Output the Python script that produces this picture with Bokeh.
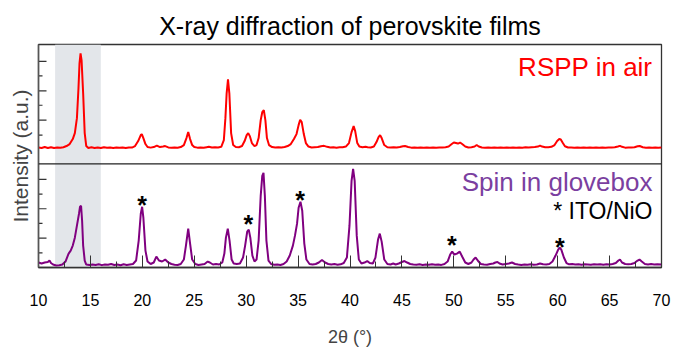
from bokeh.plotting import figure
from bokeh.models import FixedTicker, Label, Span, BoxAnnotation
from bokeh.core.properties import value
from bokeh.embed import file_html
from bokeh.resources import INLINE

# ---------------- data ----------------
title_text = "X-ray diffraction of perovskite films"
x_label = "2\u03b8 (\u00b0)"
y_label = "Intensity (a.u.)"
x_ticks = [10, 15, 20, 25, 30, 35, 40, 45, 50, 55, 60, 65, 70]
x_tick_labels = ["10", "15", "20", "25", "30", "35", "40", "45", "50", "55", "60", "65", "70"]

# RSPP in air (top trace), intensity above its baseline
rspp_2theta = [10.0, 10.3, 10.6, 10.9, 11.2, 11.5, 11.8, 12.1, 12.4, 12.7, 13.0, 13.3, 13.5, 13.7, 13.85, 13.95, 14.05, 14.15, 14.3, 14.45, 14.6, 14.8,
               15.1, 15.4, 15.7, 16.0, 16.3, 16.6, 16.9, 17.2, 17.5, 17.8, 18.1, 18.4, 18.7, 19.0, 19.3, 19.6, 19.85, 19.95, 20.1, 20.3, 20.5, 20.8,
               21.1, 21.4, 21.7, 22.0, 22.2, 22.5, 22.8, 23.1, 23.4, 23.7, 24.0, 24.25, 24.42, 24.6, 24.8, 25.0, 25.3, 25.6, 25.9, 26.2, 26.4, 26.7,
               27.0, 27.3, 27.6, 27.85, 28.0, 28.12, 28.25, 28.38, 28.55, 28.75, 29.0, 29.3, 29.6, 29.85, 30.05, 30.2, 30.35, 30.55, 30.8, 31.0,
               31.2, 31.4, 31.55, 31.7, 31.85, 32.0, 32.2, 32.5, 32.8, 33.1, 33.4, 33.7, 34.0, 34.3, 34.6, 34.85, 35.05, 35.2, 35.35, 35.55, 35.75,
               36.0, 36.3, 36.6, 36.9, 37.2, 37.5, 37.8, 38.1, 38.4, 38.7, 39.0, 39.3, 39.6, 39.9, 40.15, 40.35, 40.5, 40.7, 40.9, 41.2, 41.5, 41.7,
               42.0, 42.3, 42.55, 42.75, 42.9, 43.05, 43.3, 43.6, 43.9, 44.2, 44.5, 44.8, 45.1, 45.3, 45.6, 45.9, 46.2, 46.5, 46.8, 47.1, 47.4,
               47.7, 48.0, 48.3, 48.6, 48.9, 49.2, 49.5, 49.8, 50.0, 50.2, 50.4, 50.6, 50.8, 51.1, 51.4, 51.7, 52.0, 52.2, 52.4, 52.7, 53.0, 53.3,
               53.6, 53.9, 54.2, 54.5, 54.8, 55.1, 55.4, 55.7, 56.0, 56.3, 56.6, 56.9, 57.2, 57.5, 57.8, 58.1, 58.3, 58.5, 58.8, 59.1, 59.4, 59.7,
               59.95, 60.15, 60.3, 60.5, 60.7, 61.0, 61.3, 61.6, 61.9, 62.2, 62.5, 62.8, 63.1, 63.4, 63.7, 64.0, 64.3, 64.6, 64.9, 65.2, 65.5,
               65.8, 66.0, 66.2, 66.5, 66.8, 67.1, 67.4, 67.7, 67.9, 68.2, 68.5, 68.8, 69.1, 69.4, 69.7, 70.0]
rspp_intensity = [0.5, 0.0, 1.0, 0.0, 0.8, 0.0, 0.6, 0.2, 0.8, 2.0, 4.0, 9.0, 15.0, 30.0, 60.0, 85.0, 95.0, 88.0, 55.0, 15.0, 2.0, 0.0,
                  0.7, 0.0, 0.6, 0.0, 0.8, 0.2, 0.6, 0.0, 0.5, 0.3, 0.6, 0.0, 0.6, 0.5, 2.0, 7.0, 13.0, 14.0, 10.0, 4.0, 1.0, 0.4,
                  1.0, 2.5, 1.0, 1.5, 2.0, 0.6, 0.3, 0.5, 0.2, 1.0, 3.0, 10.0, 16.0, 9.0, 3.0, 1.0, 0.4, 0.6, 0.2, 0.8, 1.2, 0.5,
                  0.7, 0.6, 1.2, 8.0, 30.0, 55.0, 69.0, 55.0, 15.0, 3.0, 1.0, 0.8, 2.0, 7.0, 13.0, 15.0, 12.0, 5.0, 2.0, 3.0,
                  10.0, 28.0, 36.0, 38.0, 28.0, 10.0, 3.0, 1.0, 0.5, 0.8, 0.6, 1.0, 2.0, 4.0, 9.0, 14.0, 23.0, 28.5, 26.0, 14.0, 5.0,
                  1.5, 0.6, 0.8, 1.0, 1.8, 2.2, 1.2, 0.5, 0.8, 0.4, 0.7, 0.8, 1.5, 5.0, 16.0, 22.0, 17.0, 5.0, 1.5, 0.8, 1.2, 0.8,
                  0.6, 1.5, 6.0, 11.0, 13.0, 10.0, 3.0, 0.8, 0.5, 0.8, 0.5, 1.0, 1.8, 2.0, 1.0, 0.4, 0.6, 0.3, 0.6, 0.3, 0.5,
                  0.4, 0.6, 0.3, 0.6, 0.5, 0.8, 1.5, 4.0, 5.5, 5.0, 4.5, 5.5, 4.0, 1.5, 0.5, 0.8, 1.5, 3.0, 1.5, 0.5, 0.4, 0.5,
                  0.2, 0.6, 0.4, 0.6, 0.3, 0.5, 0.3, 0.6, 0.3, 0.5, 0.4, 0.7, 0.5, 0.8, 1.0, 1.5, 2.5, 1.5, 0.8, 0.8, 1.2, 3.0,
                  7.0, 9.0, 8.5, 5.0, 1.8, 0.5, 0.6, 0.3, 0.5, 0.4, 0.6, 0.3, 0.5, 0.2, 0.6, 0.4, 0.6, 0.3, 0.6, 0.5, 0.8,
                  1.5, 2.2, 1.2, 0.4, 0.5, 0.6, 0.8, 1.8, 2.0, 0.8, 0.4, 0.6, 0.3, 0.5, 0.4, 0.6]

# Spin in glovebox (bottom trace), intensity above its baseline
spin_2theta = [10.0, 10.3, 10.6, 10.9, 11.06, 11.2, 11.4, 11.7, 12.0, 12.3, 12.6, 12.9, 13.1, 13.3, 13.5, 13.7, 13.9, 14.0, 14.1, 14.2, 14.3, 14.45, 14.6,
               14.9, 15.2, 15.5, 15.8, 16.1, 16.4, 16.7, 17.0, 17.3, 17.6, 17.9, 18.2, 18.5, 18.8, 19.1, 19.4, 19.65, 19.85, 19.98, 20.1, 20.3,
               20.5, 20.8, 21.1, 21.35, 21.6, 21.9, 22.2, 22.5, 22.8, 23.1, 23.4, 23.7, 24.0, 24.2, 24.42, 24.6, 24.8, 25.1, 25.4, 25.7, 26.0,
               26.3, 26.5, 26.8, 27.1, 27.4, 27.7, 27.9, 28.05, 28.23, 28.4, 28.6, 28.8, 29.1, 29.4, 29.7, 29.9, 30.1, 30.25, 30.4, 30.6, 30.8,
               31.0, 31.2, 31.4, 31.55, 31.67, 31.8, 31.95, 32.15, 32.4, 32.7, 33.0, 33.3, 33.6, 33.9, 34.2, 34.5, 34.7, 34.9, 35.05, 35.23,
               35.4, 35.6, 35.8, 36.1, 36.4, 36.7, 37.0, 37.3, 37.6, 37.9, 38.2, 38.5, 38.8, 39.1, 39.4, 39.7, 39.95, 40.15, 40.3, 40.45,
               40.65, 40.85, 41.1, 41.4, 41.66, 41.9, 42.2, 42.45, 42.7, 42.87, 43.05, 43.3, 43.6, 43.9, 44.16, 44.4, 44.7, 45.0, 45.25, 45.5,
               45.8, 46.1, 46.4, 46.7, 47.0, 47.3, 47.6, 47.9, 48.2, 48.5, 48.8, 49.1, 49.4, 49.65, 49.84, 50.05, 50.3, 50.57, 50.8, 51.1,
               51.4, 51.7, 51.9, 52.1, 52.3, 52.6, 52.9, 53.2, 53.5, 53.8, 54.0, 54.2, 54.4, 54.7, 55.0, 55.3, 55.6, 55.9, 56.2, 56.5, 56.8,
               57.1, 57.4, 57.7, 58.0, 58.3, 58.6, 58.9, 59.2, 59.5, 59.8, 60.05, 60.2, 60.35, 60.6, 60.85, 61.1, 61.4, 61.7, 62.0, 62.3,
               62.6, 62.9, 63.2, 63.5, 63.8, 64.1, 64.4, 64.7, 65.0, 65.3, 65.6, 65.85, 66.0, 66.2, 66.5, 66.8, 67.1, 67.4, 67.7, 67.88,
               68.1, 68.4, 68.7, 69.0, 69.3, 69.6, 70.0]
spin_intensity = [3.0, 2.0, 3.0, 3.5, 5.0, 2.5, 1.0, 0.0, 0.3, 1.0, 4.0, 12.0, 15.0, 20.0, 28.0, 40.0, 52.0, 59.0, 60.0, 45.0, 20.0, 5.0, 1.0,
                  0.5, 1.0, 0.6, 1.2, 0.4, 1.0, 0.8, 1.5, 0.5, 1.0, 0.3, 1.2, 0.5, 1.0, 1.5, 5.0, 25.0, 52.0, 59.0, 48.0, 15.0,
                  4.0, 1.5, 3.0, 9.0, 5.0, 4.0, 6.0, 3.0, 1.5, 0.8, 0.5, 1.5, 6.0, 20.0, 37.0, 22.0, 6.0, 1.5, 0.5, 1.0, 1.5,
                  4.0, 3.0, 1.0, 1.5, 1.0, 3.0, 12.0, 28.0, 37.0, 25.0, 6.0, 2.0, 1.5, 2.0, 8.0, 20.0, 34.0, 36.0, 28.0, 10.0, 4.0,
                  6.0, 25.0, 70.0, 90.0, 93.0, 70.0, 25.0, 5.0, 1.5, 0.8, 1.0, 0.5, 1.5, 4.0, 10.0, 20.0, 30.0, 42.0, 58.0, 64.0,
                  55.0, 22.0, 6.0, 1.5, 1.0, 1.5, 3.0, 5.5, 3.0, 1.5, 1.0, 1.5, 0.8, 1.2, 2.5, 8.0, 40.0, 85.0, 97.0, 85.0,
                  30.0, 6.0, 2.0, 3.0, 4.5, 2.5, 2.0, 8.0, 26.0, 32.0, 24.0, 6.0, 1.5, 1.0, 2.0, 1.0, 2.0, 3.5, 4.5, 3.0,
                  1.5, 1.0, 0.8, 1.2, 0.6, 1.0, 0.7, 1.2, 0.8, 1.0, 0.6, 1.5, 4.0, 11.0, 14.0, 11.0, 12.0, 14.0, 9.0, 3.0,
                  1.5, 3.0, 6.0, 8.0, 5.0, 1.5, 1.0, 0.8, 1.5, 2.0, 3.0, 3.5, 2.0, 1.0, 1.5, 2.0, 3.0, 1.5, 1.0, 0.6, 1.0,
                  0.8, 1.2, 0.8, 1.0, 2.0, 1.2, 1.0, 1.5, 4.0, 10.0, 16.0, 18.0, 16.0, 8.0, 2.5, 1.2, 1.5, 1.0, 1.3, 0.8,
                  1.2, 1.0, 0.8, 1.2, 1.0, 1.3, 0.8, 1.2, 1.0, 1.5, 2.5, 5.0, 6.0, 3.0, 1.5, 1.2, 1.5, 2.5, 5.0, 6.0,
                  4.0, 1.5, 1.0, 1.5, 1.0, 1.3, 1.0]

# ITO/NiO substrate peaks marked with "*" (2theta, height of the mark above the baseline)
star_2theta = [19.98, 30.2, 35.2, 49.8, 60.2]
star_height = [64.0, 45.0, 69.0, 23.5, 22.0]

band_2theta = [11.6, 16.0]          # shaded region
label_rspp = "RSPP in air"
label_spin = "Spin in glovebox"
label_sub = "* ITO/NiO"

# unlabeled intensity ticks (in the plot's vertical units)
y_major_ticks = [27.5, 57.0, 86.5, 146.0, 175.5, 205.0]
y_minor_ticks = [12.75, 42.25, 71.75, 131.0, 161.0, 190.5]

# ---------------- layout constants ----------------
X0, X1 = 10, 70
Y0, Y1 = -2, 222
FRAME_W = 623         # pixels between the left and right frame edges
RSPP_OFFSET = 118.0   # vertical offset of the top trace
DIVIDER = 102.0       # boundary between the two panels
FONT = "Liberation Sans"

p = figure(width=686, height=349, x_range=(X0, X1), y_range=(Y0, Y1),
           output_backend="svg", toolbar_location=None,
           min_border_left=38, min_border_right=25, min_border_top=44, min_border_bottom=81)
p.background_fill_color = "white"
p.border_fill_color = "white"
p.grid.visible = False
p.outline_line_color = "#333333"
p.outline_line_width = 1.3

p.title.text = title_text
p.title.align = "center"
p.title.text_font = FONT
p.title.text_font_size = "25px"
p.title.text_font_style = "normal"
p.title.text_color = "black"
p.title.standoff = 10

# shaded band
p.add_layout(BoxAnnotation(left=band_2theta[0], right=band_2theta[1], fill_color="#e3e6ea",
                           fill_alpha=1.0, line_color=None, level="underlay"))

# divider between panels
p.add_layout(Span(location=DIVIDER, dimension="width", line_color="#222222", line_width=1.3))

# inward y ticks drawn as short segments from the left frame edge
px_to_x = (X1 - X0) / FRAME_W
p.segment(x0=[X0] * len(y_major_ticks), y0=y_major_ticks,
          x1=[X0 + 8 * px_to_x] * len(y_major_ticks), y1=y_major_ticks,
          line_color="#333333", line_width=1.2)
p.segment(x0=[X0] * len(y_minor_ticks), y0=y_minor_ticks,
          x1=[X0 + 4 * px_to_x] * len(y_minor_ticks), y1=y_minor_ticks,
          line_color="#333333", line_width=1.2)

rspp_y = [v + RSPP_OFFSET for v in rspp_intensity]
p.line(rspp_2theta, rspp_y, line_color="#ff0000", line_width=2)
p.line(spin_2theta, spin_intensity, line_color="#800080", line_width=2)

# asterisks
p.text(x=star_2theta, y=star_height, text=["*"] * len(star_2theta),
       text_font=value(FONT), text_font_size="25px", text_font_style="bold",
       text_align="center", text_baseline="middle", text_color="black", y_offset=3)

# labels
p.add_layout(Label(x=X1, y=190, x_offset=-9, y_offset=9, text=label_rspp, text_align="right",
                   text_baseline="alphabetic", text_font=FONT, text_font_size="26px", text_color="#ff0000"))
p.add_layout(Label(x=X1, y=74, x_offset=-9, y_offset=10, text=label_spin, text_align="right",
                   text_baseline="alphabetic", text_font=FONT, text_font_size="26px", text_color="#7b3fa0"))
p.add_layout(Label(x=X1, y=47.5, x_offset=-9, y_offset=7, text=label_sub, text_align="right",
                   text_baseline="alphabetic", text_font=FONT, text_font_size="23px", text_color="black"))

# x axis
xa = p.xaxis[0]
xa.ticker = FixedTicker(ticks=x_ticks, minor_ticks=[t + 2.5 for t in x_ticks[:-1]])
xa.major_label_overrides = {t: s for t, s in zip(x_ticks, x_tick_labels)}
xa.major_tick_in = 12
xa.major_tick_out = 0
xa.minor_tick_in = 6
xa.minor_tick_out = 0
xa.major_tick_line_color = "#333333"
xa.minor_tick_line_color = "#333333"
xa.axis_line_color = "#333333"
xa.axis_line_width = 1.3
xa.major_label_standoff = 26
xa.major_label_text_font = FONT
xa.major_label_text_font_size = "16px"
xa.major_label_text_color = "black"
xa.axis_label = x_label
xa.axis_label_text_font = FONT
xa.axis_label_text_font_size = "18px"
xa.axis_label_text_font_style = "normal"
xa.axis_label_standoff = 18

# y axis: line and title only (ticks drawn above, no tick labels)
ya = p.yaxis[0]
ya.ticker = FixedTicker(ticks=[])
ya.major_tick_in = 0
ya.major_tick_out = 0
ya.minor_tick_in = 0
ya.minor_tick_out = 0
ya.axis_line_color = "#555555"
ya.axis_line_width = 1.5
ya.major_label_standoff = 0
ya.axis_label = y_label
ya.axis_label_text_font = FONT
ya.axis_label_text_font_size = "21px"
ya.axis_label_text_font_style = "normal"
ya.axis_label_standoff = 7

open("out.html", "w").write(file_html(p, INLINE))
